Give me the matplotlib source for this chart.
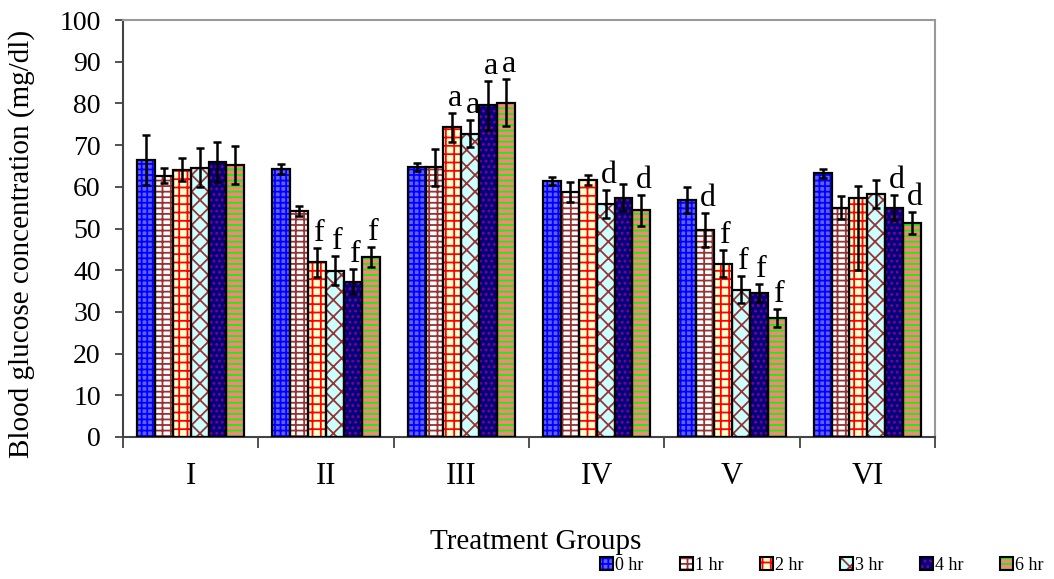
import matplotlib
matplotlib.use("Agg")
import matplotlib.pyplot as plt
from matplotlib.patches import Patch
from matplotlib.legend_handler import HandlerTuple
import numpy as np

groups = ["I", "II", "III", "IV", "V", "VI"]
series_names = ["0 hr", "1 hr", "2 hr", "3 hr", "4 hr", "6 hr"]

hr0 = [66.5, 64.3, 64.7, 61.4, 56.8, 63.2]
hr1 = [62.7, 54.1, 64.7, 58.7, 49.6, 55.0]
hr2 = [64.1, 41.9, 74.3, 61.6, 41.6, 57.2]
hr3 = [64.6, 39.9, 72.7, 55.9, 35.3, 58.3]
hr4 = [65.9, 37.2, 79.5, 57.4, 34.5, 55.0]
hr6 = [65.2, 43.2, 80.2, 54.4, 28.5, 51.3]

err0 = [6.0, 1.2, 1.0, 0.9, 3.2, 1.0]
err1 = [1.9, 1.2, 4.4, 2.4, 4.0, 2.8]
err2 = [2.8, 3.5, 3.5, 1.2, 3.2, 3.0]
err2_lower = [2.8, 3.5, 3.5, 1.2, 3.2, 17.2]
err3 = [4.6, 3.4, 3.2, 3.4, 3.2, 3.3]
err4 = [4.8, 3.0, 5.8, 3.2, 2.2, 3.0]
err6 = [4.5, 2.4, 5.6, 3.7, 2.2, 2.6]

# significance letters per group, per series
letters_I = ["", "", "", "", "", ""]
letters_II = ["", "", "f", "f", "f", "f"]
letters_III = ["", "", "a", "a", "a", "a"]
letters_IV = ["", "", "", "d", "", "d"]
letters_V = ["", "d", "f", "f", "f", "f"]
letters_VI = ["", "", "", "", "d", "d"]

values = [hr0, hr1, hr2, hr3, hr4, hr6]
err_hi = [err0, err1, err2, err3, err4, err6]
err_lo = [err0, err1, err2_lower, err3, err4, err6]
letters = [letters_I, letters_II, letters_III, letters_IV, letters_V, letters_VI]

faces = ["#6060ff", "#ffffff", "#ffffcc", "#ccffff", "#000080", "#ff8080"]
hcols = ["#0000ff", "#993333", "#ff0000", "#993333", "#800080", "#00ff00"]
hatches = ["+++", "---||", "++", "xx", "...", "---"]

plt.rcParams["font.family"] = ["Liberation Serif", "DejaVu Serif"]
plt.rcParams["hatch.linewidth"] = 1.3

fig = plt.figure(figsize=(10.54, 5.79), dpi=100)
ax = fig.add_axes([123 / 1054, 1 - 437 / 579, (935 - 123) / 1054, (437 - 20) / 579])

x = np.arange(len(groups)) + 0.5
w = 0.132
for j in range(6):
    xs = x + (j - 2.5) * w
    ax.bar(xs, values[j], w, color=faces[j], edgecolor=hcols[j], hatch=hatches[j],
           linewidth=0, zorder=2)
    ax.bar(xs, values[j], w, fill=False, edgecolor="black", linewidth=1.6, zorder=3)
    ax.errorbar(xs, values[j], yerr=[err_lo[j], err_hi[j]], fmt="none", ecolor="black",
                elinewidth=1.8, capsize=3.2, capthick=1.8, zorder=4)
    for i in range(len(groups)):
        lab = letters[i][j]
        if lab:
            ax.annotate(lab, (xs[i], values[j][i] + err_hi[j][i]), xytext=(2, 0),
                        textcoords="offset points", ha="center", va="bottom",
                        fontsize=23, zorder=5)

ax.set_xlim(0, 6)
ax.set_ylim(0, 100)
ax.set_yticks(np.arange(0, 101, 10))
ax.tick_params(axis="y", labelsize=20, length=6, width=1.2, pad=10, color="#333333")
ax.set_xticks(np.arange(0, 7))
ax.set_xticklabels([])
ax.set_xticks(x, minor=True)
ax.set_xticklabels(groups, minor=True)
ax.tick_params(axis="x", which="major", length=8, width=1.2, color="#333333")
ax.tick_params(axis="x", which="minor", length=0, labelsize=22, pad=18)

for s in ["left", "bottom"]:
    ax.spines[s].set_color("#444444")
    ax.spines[s].set_linewidth(1.5)
for s in ["top", "right"]:
    ax.spines[s].set_color("#999999")
    ax.spines[s].set_linewidth(1.5)

fig.text(536 / 1054, 1 - 542 / 579, "Treatment Groups", ha="center", va="center", fontsize=21)
fig.text(22 / 1054, 1 - 244 / 579, "Blood glucose concentration (mg/dl)", ha="center",
         va="center", rotation=90, fontsize=21)

handles = [(Patch(facecolor=faces[j], edgecolor=hcols[j], hatch=hatches[j], linewidth=0),
            Patch(fill=False, edgecolor="black", linewidth=1.5))
           for j in range(6)]
fig.legend(handles, series_names, loc="lower right", bbox_to_anchor=(1.0, -0.01), ncol=6,
           frameon=False, fontsize=13, handlelength=0.7, handleheight=0.7,
           handletextpad=0.1, columnspacing=2.05, borderaxespad=0.2,
           handler_map={tuple: HandlerTuple(ndivide=1, pad=0)})

fig.savefig("out.png", dpi=100)
